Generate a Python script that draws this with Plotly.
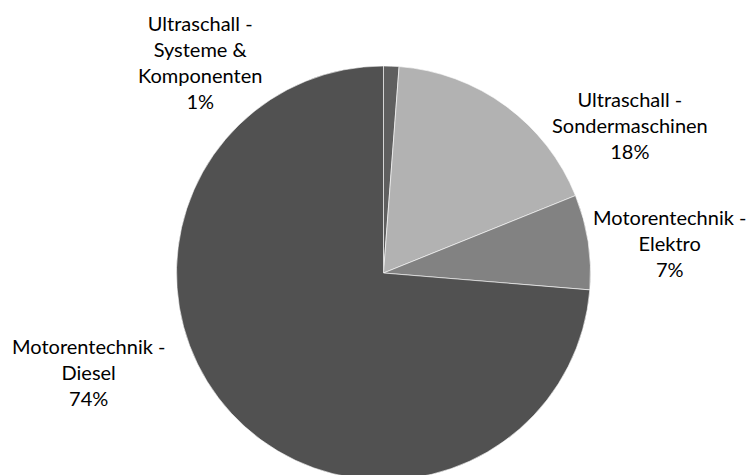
import plotly.graph_objects as go

labels = ["Ultraschall - Systeme & Komponenten", "Ultraschall - Sondermaschinen",
          "Motorentechnik - Elektro", "Motorentechnik - Diesel"]
label_lines = [["Ultraschall -", "Systeme &", "Komponenten"],
               ["Ultraschall -", "Sondermaschinen"],
               ["Motorentechnik -", "Elektro"],
               ["Motorentechnik -", "Diesel"]]
values = [1.2, 17.7, 7.4, 73.7]
colors = ["#5f5f5f", "#b2b2b2", "#828282", "#515151"]

W, H = 755, 475
OFF = 8  # default page body margin
# label anchor positions in window pixels (centre of text block)
label_pos = [(200, 62), (630, 125), (669, 243), (88, 372)]

cx, cy, r = 383.5 - OFF, 273 - OFF, 207
total = sum(values)
fig = go.Figure(go.Pie(
    labels=labels, values=values, sort=False, direction="clockwise", rotation=0,
    marker=dict(colors=colors, line=dict(color="white", width=0.6)),
    textinfo="none", hoverinfo="label+percent", showlegend=False,
    domain=dict(x=[(cx - r) / W, (cx + r) / W], y=[(H - cy - r) / H, (H - cy + r) / H]),
))

for lines, v, (px, py) in zip(label_lines, values, label_pos):
    txt = "<br>".join(lines + [f"{round(v / total * 100)}%"])
    fig.add_annotation(text=txt, x=(px - OFF) / W, y=1 - (py - OFF) / H,
                       xref="paper", yref="paper",
                       xanchor="center", yanchor="middle", showarrow=False, align="center",
                       font=dict(family="Lato", size=20, color="#000000"))

fig.update_layout(width=W, height=H, margin=dict(l=0, r=0, t=0, b=0),
                  paper_bgcolor="white", plot_bgcolor="white")
fig.write_html("out.html")
